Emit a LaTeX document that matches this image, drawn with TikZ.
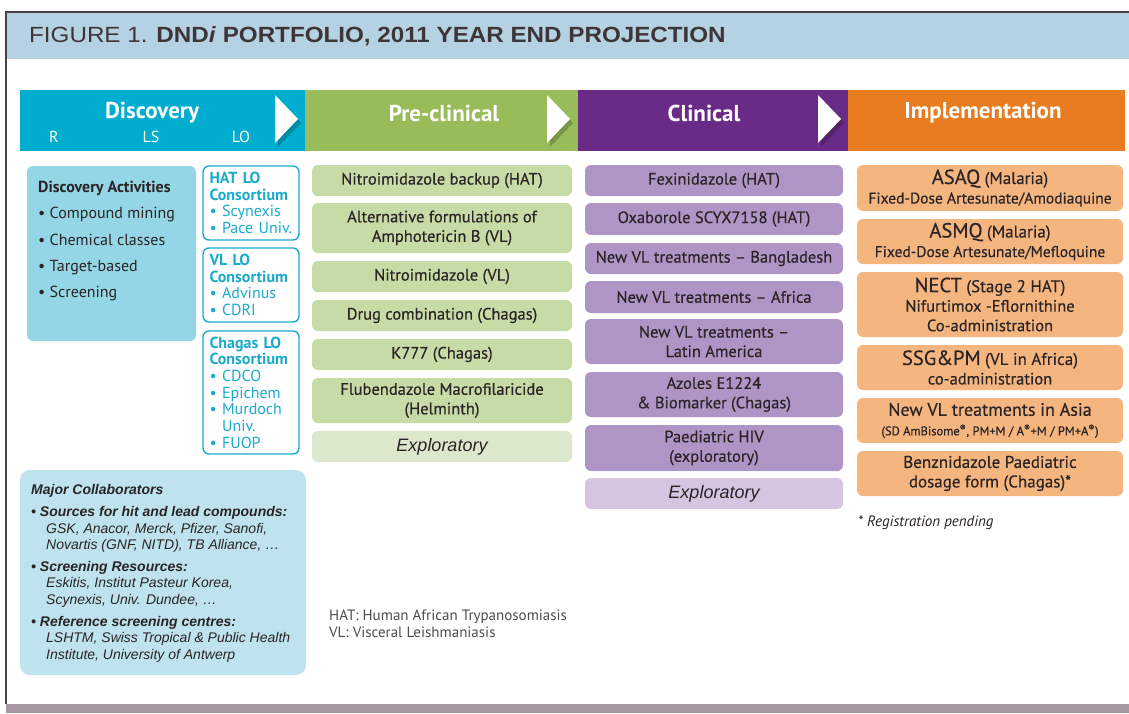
\documentclass[tikz,border=0pt]{standalone}
\usepackage{fontspec}
\setmainfont{PT Sans}
\newfontfamily\itemsf[FakeBold=0.4]{PT Sans}
\newfontfamily\helvsf{Liberation Sans}
\newfontfamily\titlesf[FakeStretch=1.1]{Liberation Sans}
\usetikzlibrary{positioning}

\definecolor{titleband}{HTML}{B5D2E2}
\definecolor{titletext}{HTML}{3E3539}
\definecolor{frameline}{HTML}{4A4048}
\definecolor{footband}{HTML}{A5979F}
\definecolor{disccol}{HTML}{00ADCE}
\definecolor{precol}{HTML}{97BC59}
\definecolor{clincol}{HTML}{6A2A88}
\definecolor{implcol}{HTML}{E77C20}
\definecolor{discbox}{HTML}{94D6E6}
\definecolor{collbox}{HTML}{BEE3EE}
\definecolor{prebox}{HTML}{C6DBA6}
\definecolor{prexpl}{HTML}{DCE8CB}
\definecolor{clinbox}{HTML}{AF95C5}
\definecolor{clinexpl}{HTML}{D5C5E0}
\definecolor{implbox}{HTML}{F4B57F}
\definecolor{consortcol}{HTML}{1AABCB}
\definecolor{inktext}{HTML}{2A2426}
\definecolor{legendtext}{HTML}{4F4A4D}

\tikzset{
	bar/.style={inner sep=0pt, minimum height=61pt},
	phasetext/.style={text=white, inner sep=0pt, font=\bfseries\fontsize{23}{26}\selectfont},
	stagetext/.style={text=white, inner sep=0pt, font=\fontsize{16}{18}\selectfont},
	chevshadow/.style={fill=black, opacity=0.2},
	item/.style={rounded corners=6pt, inner sep=0pt, align=center, text=inktext, font=\itemsf\fontsize{16.5}{19.5}\selectfont},
	preitem/.style={item, fill=prebox, minimum width=260pt},
	clinitem/.style={item, fill=clinbox, minimum width=258pt},
	implitem/.style={item, fill=implbox, minimum width=266pt},
	explitem/.style={font=\helvsf\itshape\fontsize{18}{20}\selectfont},
	consort/.style={draw=consortcol, line width=1.4pt, fill=white, rounded corners=6pt, text=consortcol, align=left, text width=83pt, inner xsep=6.5pt, inner ysep=0pt, font=\fontsize{16}{16.7}\selectfont},
	panel/.style={inner sep=0pt}
}
\newcommand\bigword[1]{{\fontsize{20.5}{21}\selectfont #1}}
\newcommand\midword[1]{{\fontsize{17}{19}\selectfont #1}}

\begin{document}
\begin{tikzpicture}[x=1pt,y=-1pt]
	\useasboundingbox (0,0) rectangle (1129,713);
	\fill[titleband] (6,12) rectangle (1129,59);
	\fill[footband] (6,704) rectangle (1129,713);
	\draw[frameline, line width=1.2pt] (6,704) -- (6,12) -- (1129,12);
	\node[anchor=west, inner sep=0pt, text=titletext, font=\titlesf\fontsize{22}{24}\selectfont] (title) at (29,36) {FIGURE 1. \textbf{DND\textit{i} PORTFOLIO, 2011 YEAR END PROJECTION}};

	\node[bar, fill=disccol, minimum width=285pt] (discbar) at (162.5,120.5) {};
	\node[bar, fill=precol, minimum width=273pt] (prebar) at (441.5,120.5) {};
	\node[bar, fill=clincol, minimum width=270pt] (clinbar) at (713,120.5) {};
	\node[bar, fill=implcol, minimum width=277pt] (implbar) at (986.5,120.5) {};

	\fill[chevshadow] (278,99) -- (301,123) -- (278,147) -- cycle;
	\fill[white] (275,95) -- (298,119) -- (275,143) -- cycle;
	\fill[chevshadow] (550,99) -- (573,123) -- (550,147) -- cycle;
	\fill[white] (547,95) -- (570,119) -- (547,143) -- cycle;
	\fill[chevshadow] (821,99) -- (844,123) -- (821,147) -- cycle;
	\fill[white] (818,95) -- (841,119) -- (818,143) -- cycle;

	\node[phasetext] (disclabel) at (152,113) {Discovery};
	\node[phasetext] (prelabel) at (444,113) {Pre-clinical};
	\node[phasetext] (clinlabel) at (704,113) {Clinical};
	\node[phasetext] (impllabel) at (983,113) {Implementation};
	\node[stagetext] (stageR) at (54,137) {R};
	\node[stagetext] (stageLS) at (151,137) {LS};
	\node[stagetext] (stageLO) at (241,137) {LO};

	\node[panel, fill=discbox, rounded corners=6pt, minimum width=169pt, minimum height=175pt] (discact) at (111.5,253.5) {};
	\node[anchor=north west, align=left, inner sep=0pt, text=inktext, font=\fontsize{16}{26.3}\selectfont] (disclist) at (38,181) {\textbf{Discovery Activities}\\• Compound mining\\• Chemical classes\\• Target-based\\• Screening};

	\node[consort, minimum height=74pt] (hatlo) at (251,203) {\textbf{HAT LO}\\\textbf{Consortium}\\• Scynexis\\• Pace Univ.};
	\node[consort, minimum height=74pt] (vllo) at (251,285) {\textbf{VL LO}\\\textbf{Consortium}\\• Advinus\\• CDRI};
	\node[consort, minimum height=123pt] (chagaslo) at (251,392.5) {\textbf{Chagas LO}\\\textbf{Consortium}\\• CDCO\\• Epichem\\• Murdoch\\\phantom{• }Univ.\\• FUOP};

	\node[panel, fill=collbox, rounded corners=10pt, minimum width=286pt, minimum height=205pt] (collab) at (163,572.5) {};
	\node[anchor=north west, align=left, inner sep=0pt, text=inktext, font=\helvsf\itshape\fontsize{14}{16.6}\selectfont] (collist) at (31,484.5) {\textbf{Major Collaborators}\\[5pt]
		\textbf{• Sources for hit and lead compounds:}\\
		\hspace*{15pt}GSK, Anacor, Merck, Pfizer, Sanofi,\\
		\hspace*{15pt}Novartis (GNF, NITD), TB Alliance, \dots\\[5pt]
		\textbf{• Screening Resources:}\\
		\hspace*{15pt}Eskitis, Institut Pasteur Korea,\\
		\hspace*{15pt}Scynexis, Univ. Dundee, \dots\\[5pt]
		\textbf{• Reference screening centres:}\\
		\hspace*{15pt}LSHTM, Swiss Tropical \& Public Health\\
		\hspace*{15pt}Institute, University of Antwerp};

	\node[preitem, minimum height=31pt] (pre1) at (442,180.5) {Nitroimidazole backup (HAT)};
	\node[preitem, minimum height=50pt] (pre2) at (442,228) {Alternative formulations of\\Amphotericin B (VL)};
	\node[preitem, minimum height=31pt] (pre3) at (442,276.5) {Nitroimidazole (VL)};
	\node[preitem, minimum height=31pt] (pre4) at (442,315.5) {Drug combination (Chagas)};
	\node[preitem, minimum height=31pt] (pre5) at (442,354.5) {K777 (Chagas)};
	\node[preitem, minimum height=45pt] (pre6) at (442,400.5) {Flubendazole Macrofilaricide\\(Helminth)};
	\node[preitem, explitem, fill=prexpl, minimum height=31pt] (pre7) at (442,446.5) {Exploratory};

	\node[clinitem, minimum height=31pt] (clin1) at (714,180.5) {Fexinidazole (HAT)};
	\node[clinitem, minimum height=32pt] (clin2) at (714,219) {Oxaborole SCYX7158 (HAT)};
	\node[clinitem, minimum height=31pt] (clin3) at (714,258.5) {New VL treatments – Bangladesh};
	\node[clinitem, minimum height=32pt] (clin4) at (714,297) {New VL treatments – Africa};
	\node[clinitem, minimum height=45pt] (clin5) at (714,341.5) {New VL treatments –\\Latin America};
	\node[clinitem, minimum height=45pt] (clin6) at (714,394.5) {Azoles E1224\\\& Biomarker (Chagas)};
	\node[clinitem, minimum height=46pt] (clin7) at (714,448) {Paediatric HIV\\(exploratory)};
	\node[clinitem, explitem, fill=clinexpl, minimum height=31pt] (clin8) at (714,493.5) {Exploratory};

	\node[implitem, minimum height=46pt] (impl1) at (990,188) {\bigword{ASAQ} \midword{(Malaria)}\\{\fontsize{15.5}{19}\selectfont Fixed-Dose Artesunate/Amodiaquine}};
	\node[implitem, minimum height=45pt] (impl2) at (990,241.5) {\bigword{ASMQ} \midword{(Malaria)}\\{\fontsize{15.5}{19}\selectfont Fixed-Dose Artesunate/Mefloquine}};
	\node[implitem, minimum height=65pt] (impl3) at (990,304.5) {\bigword{NECT} \midword{(Stage 2 HAT)}\\Nifurtimox -Eflornithine\\Co-administration};
	\node[implitem, minimum height=45pt] (impl4) at (990,367.5) {\bigword{SSG\&PM} \midword{(VL in Africa)}\\co-administration};
	\node[implitem, minimum height=45pt] (impl5) at (990,420.5) {{\fontsize{18}{19}\selectfont New VL treatments in Asia}\\{\fontsize{12.5}{16}\selectfont (SD AmBisome\textsuperscript{®}, PM+M / A\textsuperscript{®}+M / PM+A\textsuperscript{®})}};
	\node[implitem, minimum height=45pt] (impl6) at (990,473.5) {\midword{Benznidazole Paediatric}\\\midword{dosage form (Chagas)*}};

	\node[anchor=west, inner sep=0pt, text=inktext, font=\itshape\fontsize{15}{16}\selectfont] (regnote) at (858,523) {* Registration pending};
	\node[anchor=north west, align=left, inner sep=0pt, text=legendtext, font=\fontsize{15}{17}\selectfont] (legend) at (329,610) {HAT: Human African Trypanosomiasis\\VL: Visceral Leishmaniasis};
\end{tikzpicture}
\end{document}
